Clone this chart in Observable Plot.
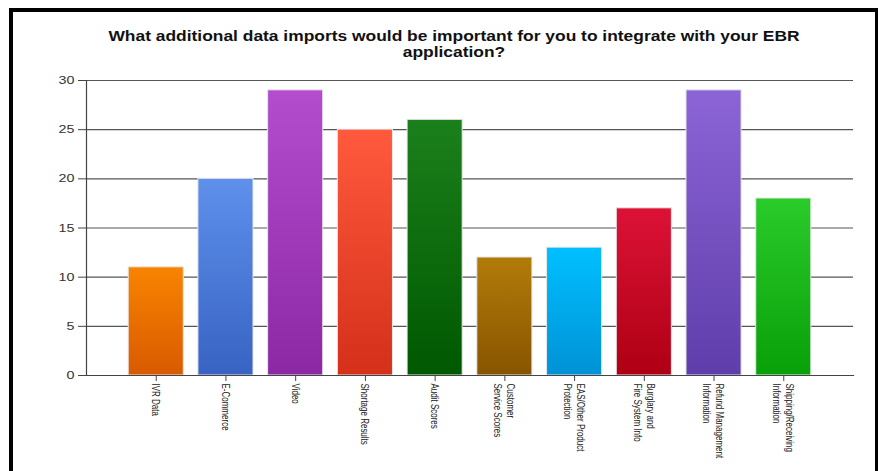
<!DOCTYPE html>
<html>
<head>
<meta charset="utf-8">
<script src="https://cdn.jsdelivr.net/npm/d3@7"></script>
<script src="https://cdn.jsdelivr.net/npm/@observablehq/plot@0.6"></script>
<style>
  html, body { margin: 0; padding: 0; background: #fff; }
  #wrap { position: relative; width: 878px; height: 471px; overflow: hidden; background: #fff; }
  #frame { position: absolute; left: 9px; top: 8px; width: 869px; height: 520px; box-sizing: border-box;
           border-left: 4px solid #000; border-top: 4px solid #000; border-right: 3px solid #000; }
  #title { position: absolute; left: 54px; top: 28px; width: 800px; text-align: center;
           font-family: "Liberation Sans", Arial, sans-serif; font-weight: bold; font-size: 14.5px;
           line-height: 16px; color: #111; transform: scaleX(1.2); transform-origin: 400px 0; }
  #chart { position: absolute; left: 0; top: 0; }
</style>
</head>
<body>
<div id="wrap">
  <div id="frame"></div>
  <div id="chart"></div>
  <div id="title">What additional data imports would be important for you to integrate with your EBR<br>application?</div>
</div>
<script>
const categories = [
  "IVR Data",
  "E-Commerce",
  "Video",
  "Shortage Results",
  "Audit Scores",
  "Customer\nService Scores",
  "EAS/Other Product\nProtection",
  "Burglary and\nFire System Info",
  "Refund Management\nInformation",
  "Shipping/Receiving\nInformation"
];
const values = [11, 20, 29, 25, 26, 12, 13, 17, 29, 18];
const yTicks = [0, 5, 10, 15, 20, 25, 30];
const gradTop    = ["#f98400", "#5e90ec", "#b44cce", "#ff5a3d", "#1b801b", "#b27c0a", "#00c0ff", "#dc1236", "#8c64d6", "#2bcb2b"];
const gradBottom = ["#d85a00", "#3863c2", "#8c28a4", "#d4301a", "#005800", "#885400", "#0092d6", "#ae0014", "#5e3eaa", "#08a008"];

const data = categories.map((c, i) => ({category: c, value: values[i], fill: `url(#barGrad${i})`}));

const chart = Plot.plot({
  width: 878,
  height: 471,
  marginLeft: 86,
  marginRight: 25,
  marginTop: 80,
  marginBottom: 96,
  style: {background: "transparent", fontFamily: "'Liberation Sans', Arial, sans-serif", overflow: "visible"},
  x: {type: "band", domain: categories, paddingInner: 0.21, paddingOuter: 0.605, round: false, label: null},
  y: {domain: [0, 30], label: null},
  color: {type: "identity"},
  marks: [
    Plot.gridY(yTicks, {stroke: "#555", strokeOpacity: 1, strokeWidth: 1.2}),
    Plot.barY(data, {x: "category", y: "value", fill: "fill", stroke: "#e6e6e6", strokeWidth: 1}),
    Plot.axisY({ticks: yTicks, tickSize: 8, tickPadding: 4, fontSize: 11, fill: "#333", stroke: "#444", label: null}),
    Plot.axisX({tickSize: 6, tickFormat: () => "", stroke: "#444", label: null}),
    Plot.frame({anchor: "left", stroke: "#444", strokeWidth: 1.2}),
    Plot.frame({anchor: "bottom", stroke: "#444", strokeWidth: 1.2}),
    Plot.text(categories, {
      x: d => d, frameAnchor: "bottom", dy: 8, rotate: 90,
      textAnchor: "start", lineAnchor: "middle", lineHeight: 1.3,
      fontSize: 10, fill: "#222",
      fontFamily: "'Liberation Sans', Arial, sans-serif"
    })
  ]
});

const svg = d3.select(chart);
const defs = svg.insert("defs", ":first-child");
categories.forEach((c, i) => {
  const g = defs.append("linearGradient").attr("id", `barGrad${i}`)
    .attr("x1", 0).attr("y1", 0).attr("x2", 0).attr("y2", 1);
  g.append("stop").attr("offset", "0%").attr("stop-color", gradTop[i]);
  g.append("stop").attr("offset", "100%").attr("stop-color", gradBottom[i]);
});

// The reference is stretched horizontally: condense rotated labels along their run, widen y tick labels.
const yStrings = yTicks.map(String);
svg.selectAll("text").each(function() {
  const t = d3.select(this);
  const tr = t.attr("transform") || "";
  if (tr.includes("rotate(90")) {
    t.attr("transform", tr + " scale(0.8,1)");
  } else if (yStrings.includes(this.textContent.trim())) {
    const ax = parseFloat(t.attr("x")) || 0;
    t.attr("transform", `${tr} translate(${ax},0) scale(1.3,1) translate(${-ax},0)`.trim());
  }
});

document.getElementById("chart").appendChild(chart);
</script>
</body>
</html>
